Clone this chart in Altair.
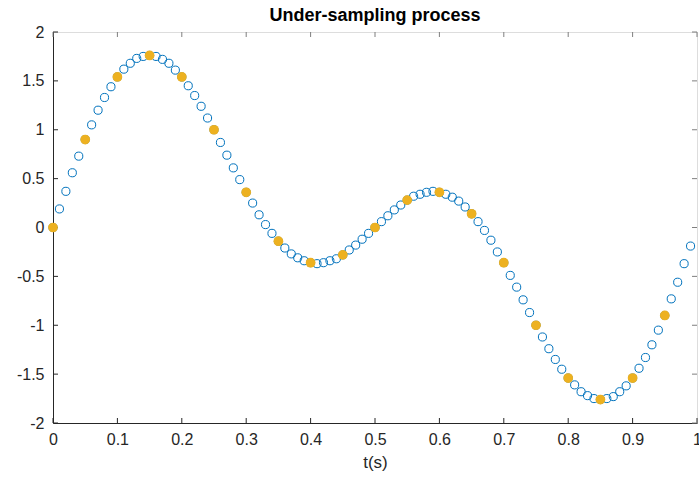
import altair as alt
import pandas as pd

# Dense sampling (fs = 100 Hz)
t_dense = [0.00, 0.01, 0.02, 0.03, 0.04, 0.05, 0.06, 0.07, 0.08, 0.09,
           0.10, 0.11, 0.12, 0.13, 0.14, 0.15, 0.16, 0.17, 0.18, 0.19,
           0.20, 0.21, 0.22, 0.23, 0.24, 0.25, 0.26, 0.27, 0.28, 0.29,
           0.30, 0.31, 0.32, 0.33, 0.34, 0.35, 0.36, 0.37, 0.38, 0.39,
           0.40, 0.41, 0.42, 0.43, 0.44, 0.45, 0.46, 0.47, 0.48, 0.49,
           0.50, 0.51, 0.52, 0.53, 0.54, 0.55, 0.56, 0.57, 0.58, 0.59,
           0.60, 0.61, 0.62, 0.63, 0.64, 0.65, 0.66, 0.67, 0.68, 0.69,
           0.70, 0.71, 0.72, 0.73, 0.74, 0.75, 0.76, 0.77, 0.78, 0.79,
           0.80, 0.81, 0.82, 0.83, 0.84, 0.85, 0.86, 0.87, 0.88, 0.89,
           0.90, 0.91, 0.92, 0.93, 0.94, 0.95, 0.96, 0.97, 0.98, 0.99]
y_dense = [0.00, 0.19, 0.37, 0.56, 0.73, 0.90, 1.05, 1.20, 1.33, 1.44,
           1.54, 1.62, 1.68, 1.73, 1.75, 1.76, 1.75, 1.72, 1.68, 1.61,
           1.54, 1.45, 1.35, 1.24, 1.12, 1.00, 0.87, 0.74, 0.61, 0.49,
           0.36, 0.25, 0.13, 0.03, -0.06, -0.14, -0.21, -0.27, -0.31, -0.34,
           -0.36, -0.37, -0.36, -0.34, -0.32, -0.28, -0.23, -0.18, -0.12, -0.06,
           0.00, 0.06, 0.12, 0.18, 0.23, 0.28, 0.32, 0.34, 0.36, 0.37,
           0.36, 0.34, 0.31, 0.27, 0.21, 0.14, 0.06, -0.03, -0.13, -0.25,
           -0.36, -0.49, -0.61, -0.74, -0.87, -1.00, -1.12, -1.24, -1.35, -1.45,
           -1.54, -1.61, -1.68, -1.72, -1.75, -1.76, -1.75, -1.73, -1.68, -1.62,
           -1.54, -1.44, -1.33, -1.20, -1.05, -0.90, -0.73, -0.56, -0.37, -0.19]

# Under-sampled (fs = 20 Hz)
t_under = [0.00, 0.05, 0.10, 0.15, 0.20, 0.25, 0.30, 0.35, 0.40, 0.45,
           0.50, 0.55, 0.60, 0.65, 0.70, 0.75, 0.80, 0.85, 0.90, 0.95]
y_under = [0.00, 0.90, 1.54, 1.76, 1.54, 1.00, 0.36, -0.14, -0.36, -0.28,
           0.00, 0.28, 0.36, 0.14, -0.36, -1.00, -1.54, -1.76, -1.54, -0.90]

x_ticks = [0, 0.1, 0.2, 0.3, 0.4, 0.5, 0.6, 0.7, 0.8, 0.9, 1]
y_ticks = [-2, -1.5, -1, -0.5, 0, 0.5, 1, 1.5, 2]

W, H = 644, 391
FONT = "Liberation Sans"
TXT = "#262626"
FS = 16

dense = pd.DataFrame({"t": t_dense, "y": y_dense})
under = pd.DataFrame({"t": t_under, "y": y_under})
xt = pd.DataFrame({"v": x_ticks})
yt = pd.DataFrame({"v": y_ticks})

xscale = alt.Scale(domain=[0, 1], nice=False, zero=False)
yscale = alt.Scale(domain=[-2, 2], nice=False, zero=False)

xaxis = alt.Axis(values=x_ticks, labelExpr="datum.value + ''", ticks=False,
                 grid=False, domainColor=TXT, labelPadding=8, labelFlush=False,
                 labelFont=FONT, labelFontSize=FS, labelColor=TXT,
                 title="t(s)", titlePadding=7, titleFontWeight="normal",
                 titleFont=FONT, titleFontSize=17, titleColor=TXT)
yaxis = alt.Axis(values=y_ticks, labelExpr="datum.value + ''", ticks=False,
                 grid=False, domainColor=TXT, labelPadding=9, labelFlush=False,
                 labelFont=FONT, labelFontSize=FS, labelColor=TXT, title=None)

blue = alt.Chart(dense).mark_point(shape="circle", filled=False, color="#0072BD",
                                   size=66, strokeWidth=1, opacity=1).encode(
    x=alt.X("t:Q", scale=xscale, axis=xaxis),
    y=alt.Y("y:Q", scale=yscale, axis=yaxis),
)
orange = alt.Chart(under).mark_circle(color="#EDB120", size=95, opacity=1).encode(
    x=alt.X("t:Q", scale=xscale),
    y=alt.Y("y:Q", scale=yscale),
)

tick_col = "#262626"
xt_bottom = alt.Chart(xt).mark_rule(color=tick_col, strokeWidth=1).encode(
    x=alt.X("v:Q", scale=xscale), y=alt.value(H), y2=alt.value(H - 5))
xt_top = alt.Chart(xt).mark_rule(color="#7f7f7f", strokeWidth=1).encode(
    x=alt.X("v:Q", scale=xscale), y=alt.value(0), y2=alt.value(5))
yt_left = alt.Chart(yt).mark_rule(color=tick_col, strokeWidth=1).encode(
    y=alt.Y("v:Q", scale=yscale), x=alt.value(0), x2=alt.value(5))
yt_right = alt.Chart(yt).mark_rule(color="#7f7f7f", strokeWidth=1).encode(
    y=alt.Y("v:Q", scale=yscale), x=alt.value(W), x2=alt.value(W - 5))

chart = alt.layer(xt_bottom, xt_top, yt_left, yt_right, blue, orange).properties(
    width=W, height=H,
    title=alt.TitleParams("Under-sampling process", fontSize=18, font=FONT,
                          fontWeight="bold", color="#000000", offset=-1,
                          anchor="middle", frame="group"),
    autosize=alt.AutoSizeParams(type="none"),
    padding={"left": 53, "top": 32, "right": 2, "bottom": 61},
).configure_view(stroke="#7f7f7f", strokeWidth=1).configure(background="white")

chart.save("out.html", embed_options={"renderer": "svg", "actions": False})
